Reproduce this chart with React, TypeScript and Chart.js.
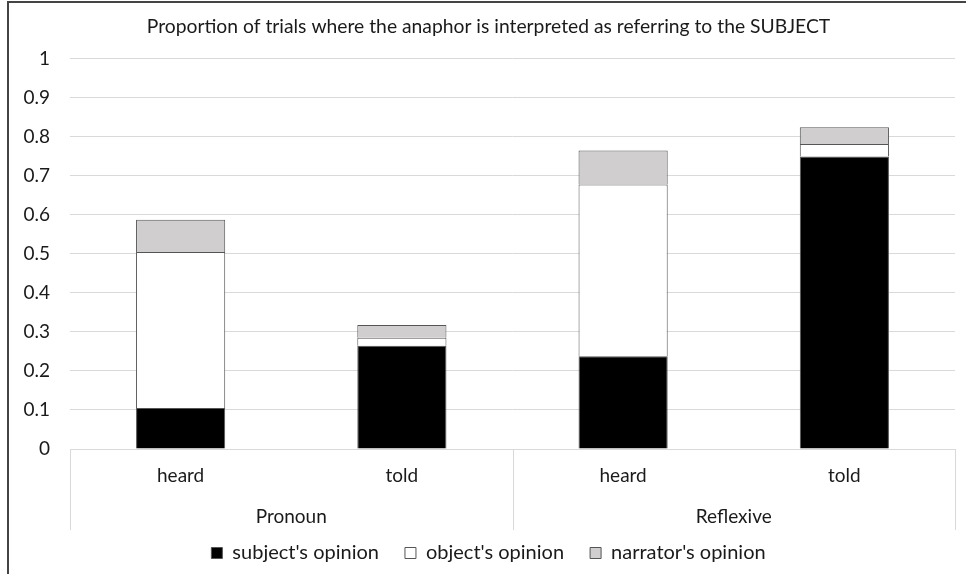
import React, { useEffect, useRef } from "react";
import { Chart, registerables } from "chart.js";

Chart.register(...registerables);

const categories = ["heard", "told", "heard", "told"];
const groups = ["Pronoun", "Reflexive"];
const subjectOpinion = [0.105, 0.265, 0.238, 0.75];
const objectOpinion = [0.4, 0.02, 0.44, 0.032];
const narratorOpinion = [0.083, 0.033, 0.087, 0.043];
const titleText = "Proportion of trials where the anaphor is interpreted as referring to the SUBJECT";

const FONT = "Lato";
const TEXT = "#1a1a1a";
const GRID = "#d9d9d9";
const FS = 19;

const groupAxis = {
  id: "groupAxis",
  afterDraw(chart: any) {
    const x = chart.scales.x;
    if (!x) return;
    const ctx = chart.ctx;
    const mid = (x.getPixelForValue(1) + x.getPixelForValue(2)) / 2;
    const xs = [x.left, mid, x.right];
    ctx.save();
    ctx.strokeStyle = GRID;
    ctx.lineWidth = 1;
    xs.forEach((px: number) => {
      const p = Math.round(px) + 0.5;
      ctx.beginPath();
      ctx.moveTo(p, x.top);
      ctx.lineTo(p, x.bottom + 13);
      ctx.stroke();
    });
    ctx.fillStyle = TEXT;
    ctx.font = `${FS}px ${FONT}`;
    ctx.textAlign = "center";
    ctx.textBaseline = "middle";
    groups.forEach((g, i) => {
      const cx = (x.getPixelForValue(i * 2) + x.getPixelForValue(i * 2 + 1)) / 2;
      ctx.fillText(g, cx, x.top + 68);
    });
    ctx.restore();
  },
};

export default function App() {
  const ref = useRef<HTMLCanvasElement | null>(null);
  useEffect(() => {
    if (!ref.current) return;
    const chart = new Chart(ref.current, {
      type: "bar",
      data: {
        labels: categories,
        datasets: [
          {
            label: "subject's opinion",
            data: subjectOpinion,
            backgroundColor: "#000000",
            borderColor: "#555555",
            borderWidth: 1,
          },
          {
            label: "object's opinion",
            data: objectOpinion,
            backgroundColor: "#ffffff",
            borderColor: "#555555",
            borderWidth: 1,
          },
          {
            label: "narrator's opinion",
            data: narratorOpinion,
            backgroundColor: "#d0cece",
            borderColor: "#555555",
            borderWidth: 1,
          },
        ],
      },
      options: {
        responsive: false,
        animation: false,
        layout: { padding: { left: 22, right: 11, top: 0, bottom: 1 } },
        datasets: {
          bar: { categoryPercentage: 1, barPercentage: 0.403 },
        },
        plugins: {
          title: {
            display: true,
            text: titleText,
            color: TEXT,
            font: { family: FONT, size: 19.3, weight: "normal" },
            padding: { top: 15.4, bottom: 20.4 },
          },
          legend: {
            position: "bottom",
            labels: {
              color: TEXT,
              font: { family: FONT, size: 20 },
              boxWidth: 11,
              boxHeight: 11,
              padding: 26,
            },
          },
          tooltip: { enabled: false },
        },
        scales: {
          x: {
            stacked: true,
            grid: { display: false, drawTicks: false },
            border: { display: true, color: GRID },
            ticks: { color: TEXT, font: { family: FONT, size: FS }, padding: 15.6 },
            afterFit: (s: any) => {
              s.height = 68;
            },
          },
          y: {
            stacked: true,
            min: 0,
            max: 1,
            afterFit: (s: any) => {
              s.width = 48;
            },
            grid: { color: GRID, drawTicks: false },
            border: { display: false },
            ticks: {
              stepSize: 0.1,
              color: TEXT,
              font: { family: FONT, size: FS },
              padding: 20,
              callback: (v: any) => String(Number(Number(v).toFixed(1))),
            },
          },
        },
      },
      plugins: [groupAxis],
    } as any);
    return () => chart.destroy();
  }, []);
  return (
    <div style={{ position: "fixed", left: 0, top: 0, width: 966, height: 574, background: "#fff" }}>
      <div
        style={{
          position: "absolute",
          left: 7,
          top: 1,
          width: 966,
          height: 600,
          borderTop: "2px solid #444",
          borderLeft: "2px solid #444",
          boxSizing: "border-box",
        }}
      />
      <canvas ref={ref} width={966} height={574} style={{ position: "absolute", left: 0, top: 0 }} />
    </div>
  );
}
